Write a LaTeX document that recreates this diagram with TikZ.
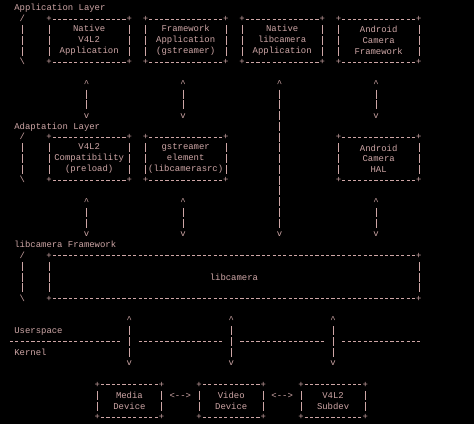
\documentclass[tikz,border=0pt]{standalone}
\usepackage{fontspec}
\newfontfamily\ttyfont{Liberation Mono}
\newcommand\termfont{\ttyfont\fontsize{8.93}{10.76}\selectfont}
\definecolor{term}{RGB}{206,166,166}
\tikzset{glyph/.style={text=term, font=\termfont, inner sep=0pt, anchor=base, yshift=-2.7pt},
  layertext/.style={glyph, anchor=base west},
  box/.style 2 args={text=term, font=\termfont, align=center, inner sep=0pt, outer sep=0pt, minimum width=#1*5.36pt, minimum height=#2*10.76pt},
  hrule/.style={draw=term, line width=0.5pt, dash pattern=on 3.2pt off 2.16pt, dash phase=4.28pt},
  vrule/.style={draw=term, line width=0.5pt, dash pattern=on 9pt off 1.76pt, dash phase=9.88pt},
  updown/.style={vrule, shorten <=26.9pt, shorten >=26.9pt},
  tipup/.style={glyph, pos=0, yshift=-21.52pt},
  tipdown/.style={glyph, pos=1, yshift=21.52pt}}

\begin{document}
\begin{tikzpicture}[x=5.36pt, y=-10.76pt]
  \fill[black] (-0.142,0.2565) rectangle (88.29,39.66);
  \useasboundingbox (-0.142,0.2565) rectangle (88.29,39.66);
  % layers
  \node[layertext] (app)   at (2.5,1)  {Application Layer};
  \node[layertext] (adapt) at (2.5,12) {Adaptation Layer};
  \node[layertext] (fw)    at (2.5,23) {libcamera Framework};
  \node[layertext] (user)  at (2.5,31) {Userspace};
  \node[layertext] (kern)  at (2.5,33) {Kernel};
  \foreach \r in {2,13,24}{
    \node[glyph] at (4,\r) {/};
    \draw[vrule] (4,\r+0.5) -- (4,\r+3.5);
    \node[glyph] at (4,\r+4) {\textbackslash};
  }
  % boxes
  \node[box={15}{4}] (nv)  at (16.5,4)  {Native\\V4L2\\Application};
  \node[box={15}{4}] (fa)  at (34.5,4)  {Framework\\Application\\(gstreamer)};
  \node[box={15}{4}] (nl)  at (52.5,4)  {Native\\libcamera\\Application};
  \node[box={15}{4}] (af)  at (70.5,4)  {Android\\Camera\\Framework};
  \node[box={15}{4}] (vc)  at (16.5,15) {V4L2\\Compatibility\\(preload)};
  \node[box={15}{4}] (gs)  at (34.5,15) {gstreamer\\element\\(libcamerasrc)};
  \node[box={15}{4}] (hal) at (70.5,15) {Android\\Camera\\HAL};
  \node[box={69}{4}] (lc)  at (43.5,26) {libcamera};
  \node[box={12}{3}] (md)  at (24,37.5) {Media\\Device};
  \node[box={12}{3}] (vd)  at (43,37.5) {Video\\Device};
  \node[box={12}{3}] (sd)  at (62,37.5) {V4L2\\Subdev};
  \foreach \b in {nv,fa,nl,af,vc,gs,hal,lc,md,vd,sd}{
    \draw[hrule, shorten <=2.68pt, shorten >=2.68pt] (\b.north west) -- (\b.north east);
    \draw[hrule, shorten <=2.68pt, shorten >=2.68pt] (\b.south west) -- (\b.south east);
    \draw[vrule, shorten <=5.38pt, shorten >=5.38pt] (\b.north west) -- (\b.south west);
    \draw[vrule, shorten <=5.38pt, shorten >=5.38pt] (\b.north east) -- (\b.south east);
    \foreach \a in {north west,north east,south west,south east}
      \node[glyph] at (\b.\a) {+};
  }
  % links
  \draw[updown] ([xshift=-2.68pt]nv.south) -- ([xshift=-2.68pt]vc.north) node[tipup] {\textasciicircum} node[tipdown] {v};
  \draw[updown] ([xshift=-2.68pt]fa.south) -- ([xshift=-2.68pt]gs.north) node[tipup] {\textasciicircum} node[tipdown] {v};
  \draw[updown] ([xshift=-2.68pt]af.south) -- ([xshift=-2.68pt]hal.north) node[tipup] {\textasciicircum} node[tipdown] {v};
  \draw[updown] ([xshift=-2.68pt]nl.south) -- ([xshift=-2.68pt]nl.south |- lc.north) node[tipup] {\textasciicircum} node[tipdown] {v};
  \draw[updown] ([xshift=-2.68pt]vc.south) -- ([xshift=-2.68pt]vc.south |- lc.north) node[tipup] {\textasciicircum} node[tipdown] {v};
  \draw[updown] ([xshift=-2.68pt]gs.south) -- ([xshift=-2.68pt]gs.south |- lc.north) node[tipup] {\textasciicircum} node[tipdown] {v};
  \draw[updown] ([xshift=-2.68pt]hal.south) -- ([xshift=-2.68pt]hal.south |- lc.north) node[tipup] {\textasciicircum} node[tipdown] {v};
  \draw[updown] (md.north |- lc.south) -- (md.north) node[tipup] {\textasciicircum} node[tipdown] {v};
  \draw[updown] (vd.north |- lc.south) -- (vd.north) node[tipup] {\textasciicircum} node[tipdown] {v};
  \draw[updown] (sd.north |- lc.south) -- (sd.north) node[tipup] {\textasciicircum} node[tipdown] {v};
  % userspace / kernel
  \draw[hrule] (1.5,32) -- (22.5,32);
  \draw[hrule] (25.5,32) -- (41.5,32);
  \draw[hrule] (44.5,32) -- (60.5,32);
  \draw[hrule] (63.5,32) -- (78.5,32);
  \node[glyph] (mdvd) at (33.5,37) {<-->};
  \node[glyph] (vdsd) at (52.5,37) {<-->};
\end{tikzpicture}
\end{document}
